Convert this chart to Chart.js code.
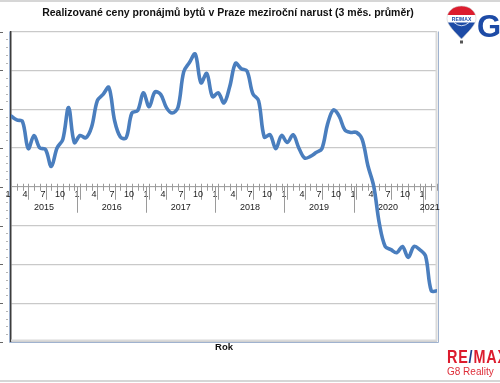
<!DOCTYPE html>
<html>
<head>
<meta charset="utf-8">
<script src="https://cdn.jsdelivr.net/npm/chart.js@4.4.0/dist/chart.umd.min.js"></script>
<style>
    html, body { margin: 0; padding: 0; background: #fff; }
    #wrap { position: relative; width: 500px; height: 383px; overflow: hidden; font-family: "Liberation Sans", Arial, sans-serif; }
    #chart { position: absolute; left: 0; top: 0; }
    .rule { position: absolute; left: 0; width: 500px; height: 2px; background: #d6d6d6; }
    #balloon { position: absolute; left: 446px; top: 5px; }
    #g8 { position: absolute; left: 477px; top: 11px; font-size: 31px; line-height: 31px; font-weight: bold; color: #1d4ba6; }
    #remax { position: absolute; left: 447px; top: 348px; font-size: 18px; line-height: 18px; font-weight: bold; color: #dc1c2e;
             letter-spacing: 1px; transform: scaleX(0.8); transform-origin: left top; white-space: nowrap; }
    #remax span { color: #1a3e8c; }
    #reality { position: absolute; left: 447px; top: 366.5px; font-size: 10px; line-height: 10px; color: #de2f3a; white-space: nowrap; }
</style>
</head>
<body>
<div id="wrap">
    <div class="rule" style="top:0"></div>
    <canvas id="chart" width="500" height="383"></canvas>
    <svg id="balloon" width="31" height="40" viewBox="0 0 31 40">
        <defs>
            <clipPath id="bclip">
                <path d="M15.5 1 C7 1 1 6.5 1 13.5 C1 20 9 27 15.5 34 C22 27 30 20 30 13.5 C30 6.5 24 1 15.5 1 Z"/>
            </clipPath>
        </defs>
        <g clip-path="url(#bclip)">
            <rect x="0" y="0" width="31" height="10" fill="#dc1c2e"/>
            <rect x="0" y="10" width="31" height="7.5" fill="#ffffff"/>
            <rect x="0" y="17.5" width="31" height="20" fill="#1d4ba6"/>
            <path d="M8 17.5 Q15.5 24 23 17.5" stroke="#ffffff" stroke-width="0.8" fill="none"/>
        </g>
        <path d="M15.5 1 C7 1 1 6.5 1 13.5 C1 20 9 27 15.5 34 C22 27 30 20 30 13.5 C30 6.5 24 1 15.5 1 Z" fill="none" stroke="#cfcfcf" stroke-width="0.6"/>
        <text x="15.5" y="15.6" font-size="5" font-weight="bold" text-anchor="middle" fill="#1d4ba6" font-family="Liberation Sans, Arial, sans-serif">RE/MAX</text>
        <rect x="14" y="35.5" width="3" height="3" fill="#555"/>
    </svg>
    <div id="g8">G</div>
    <div id="remax">RE<span>/</span>MAX</div>
    <div id="reality">G8 Reality</div>
    <div class="rule" style="top:380px"></div>
</div>
<script>
(function() {
    'use strict';

    // Chart texts
    const chartTitle = 'Realizované ceny pronájmů bytů v Praze meziroční narust (3 měs. průměr)';
    const axisTitle = 'Rok';

    // Category axis: months from 1/2015 to 3/2021
    const years = [2015, 2016, 2017, 2018, 2019, 2020, 2021];
    const labelledMonths = [1, 4, 7, 10];

    // Y-axis ticks (labels are cut off in the original)
    const yMin = -20;
    const yMax = 20;
    const yStep = 5;

    // Year-on-year change, 3-month average, one value per month
    const values = [
        9.1, 8.6, 8.4, 4.9, 6.6, 5.0, 4.8, 2.6, 5.0, 6.1, 10.2, 5.7,      // 2015
        6.6, 6.3, 7.7, 11.1, 11.9, 12.8, 8.5, 6.4, 6.3, 9.5, 9.8, 12.1,   // 2016
        10.3, 12.2, 11.9, 10.2, 9.5, 10.2, 14.8, 16.0, 17.1, 13.4, 14.6, 11.6, // 2017
        12.1, 10.8, 12.9, 15.9, 15.2, 14.9, 12.0, 11.1, 6.4, 6.7, 4.9, 6.6,    // 2018
        5.7, 6.7, 5.0, 3.7, 3.9, 4.4, 4.9, 8.1, 9.9, 9.1, 7.3, 7.0,       // 2019
        7.0, 6.1, 2.7, 0.1, -4.8, -7.7, -8.1, -8.5, -7.7, -9.1, -7.7, -8.1, // 2020
        -8.9, -13.4, -13.4                                                // 2021
    ];

    const colors = {
        line: '#4a7ebe',
        grid: '#c9c9c9',
        axis: '#3c3c3c',
        ticks: '#9a9a9a',
        frame: '#9fb2cf',
        text: '#1a1a1a'
    };

    const font = '"Liberation Sans", Arial, sans-serif';

    // Decorations drawn from the scales: month ticks, year labels, frame, titles
    const decor = {
        id: 'decor',
        beforeDatasetsDraw(chart) {
            const {ctx, chartArea: a, scales: {x, y}} = chart;
            const y0 = y.getPixelForValue(0);
            ctx.save();

            // plot frame
            ctx.strokeStyle = '#dadada';
            ctx.lineWidth = 2;
            ctx.beginPath();
            ctx.moveTo(a.left, a.bottom - 1.5);
            ctx.lineTo(a.right - 0.5, a.bottom - 1.5);
            ctx.lineTo(a.right - 0.5, a.top);
            ctx.stroke();
            ctx.strokeStyle = colors.frame;
            ctx.lineWidth = 1;
            ctx.beginPath();
            ctx.moveTo(9.5, a.top);
            ctx.lineTo(9.5, a.bottom + 0.5);
            ctx.lineTo(a.right + 1.5, a.bottom + 0.5);
            ctx.lineTo(a.right + 1.5, a.top);
            ctx.stroke();

            // y tick marks left of the plot
            ctx.strokeStyle = '#666';
            for (let v = yMin; v <= yMax; v += yStep) {
                const py = Math.round(y.getPixelForValue(v)) + 0.5;
                ctx.beginPath();
                ctx.moveTo(0, py);
                ctx.lineTo(3, py);
                ctx.stroke();
            }
            ctx.strokeStyle = '#b5b5b5';
            for (let v = yMin; v <= yMax; v += 1) {
                if (v % yStep === 0) continue;
                const py = Math.round(y.getPixelForValue(v)) + 0.5;
                ctx.beginPath();
                ctx.moveTo(6, py);
                ctx.lineTo(8, py);
                ctx.stroke();
            }

            // month ticks and labels
            ctx.strokeStyle = colors.ticks;
            ctx.fillStyle = colors.text;
            ctx.font = '9px ' + font;
            ctx.textAlign = 'center';
            ctx.textBaseline = 'middle';
            for (let m = 0; m < values.length; m++) {
                const px = Math.round(x.getPixelForValue(m)) + 0.5;
                const month = m % 12 + 1;
                const labelled = labelledMonths.includes(month);
                ctx.beginPath();
                ctx.moveTo(px, y0 - 3);
                ctx.lineTo(px, y0 + (labelled ? 13 : 4));
                ctx.stroke();
                if (labelled) {
                    ctx.fillText(String(month), px - 3.4, y0 + 8);
                }
            }

            // year separators and year labels
            years.forEach(function(year, k) {
                const start = Math.max(12 * k - 0.5, x.min);
                const end = Math.min(12 * k + 11.5, x.max);
                if (12 * k - 0.5 > x.min) {
                    const px = Math.round(x.getPixelForValue(12 * k - 0.5)) + 0.5;
                    ctx.beginPath();
                    ctx.moveTo(px, y0);
                    ctx.lineTo(px, y0 + 26);
                    ctx.stroke();
                }
                const cx = (x.getPixelForValue(start) + x.getPixelForValue(end)) / 2;
                ctx.fillText(String(year), cx, y0 + 20.5);
            });
            ctx.restore();
        },
        afterDraw(chart) {
            const {ctx, chartArea: a} = chart;
            ctx.save();
            ctx.fillStyle = '#111';
            ctx.textAlign = 'center';
            ctx.textBaseline = 'middle';
            ctx.font = 'bold 10.5px ' + font;
            ctx.fillText(chartTitle, (a.left + a.right) / 2 + 4, 13.5);
            ctx.font = 'bold 9.5px ' + font;
            ctx.fillText(axisTitle, (a.left + a.right) / 2, 347.5);
            ctx.restore();
        }
    };

    function initChart() {
        const canvas = document.getElementById('chart');
        if (!canvas || typeof Chart === 'undefined') {
            return;
        }

        new Chart(canvas.getContext('2d'), {
            type: 'line',
            data: {
                datasets: [{
                    label: chartTitle,
                    data: values.map(function(v, i) { return {x: i, y: v}; }),
                    borderColor: colors.line,
                    borderWidth: 3.6,
                    pointRadius: 0,
                    tension: 0.35,
                    fill: false,
                    borderCapStyle: 'round',
                    borderJoinStyle: 'round'
                }]
            },
            options: {
                responsive: false,
                animation: false,
                devicePixelRatio: 1,
                layout: {
                    padding: {top: 31.5, right: 63, bottom: 41, left: 0}
                },
                plugins: {
                    legend: {display: false},
                    tooltip: {enabled: false}
                },
                scales: {
                    x: {
                        type: 'linear',
                        min: 0,
                        max: values.length - 1,
                        position: {y: 0},
                        grid: {drawOnChartArea: false, drawTicks: false},
                        border: {display: true, color: '#a3a3a3', width: 1},
                        ticks: {display: false}
                    },
                    y: {
                        min: yMin,
                        max: yMax,
                        ticks: {stepSize: yStep, display: false},
                        grid: {color: colors.grid, lineWidth: 1.2, drawTicks: false},
                        border: {display: true, color: colors.axis, width: 1.5},
                        afterFit: function(scale) { scale.width = 11; }
                    }
                }
            },
            plugins: [decor]
        });
    }

    if (document.readyState === 'loading') {
        document.addEventListener('DOMContentLoaded', initChart);
    } else {
        initChart();
    }
})();
</script>
</body>
</html>
